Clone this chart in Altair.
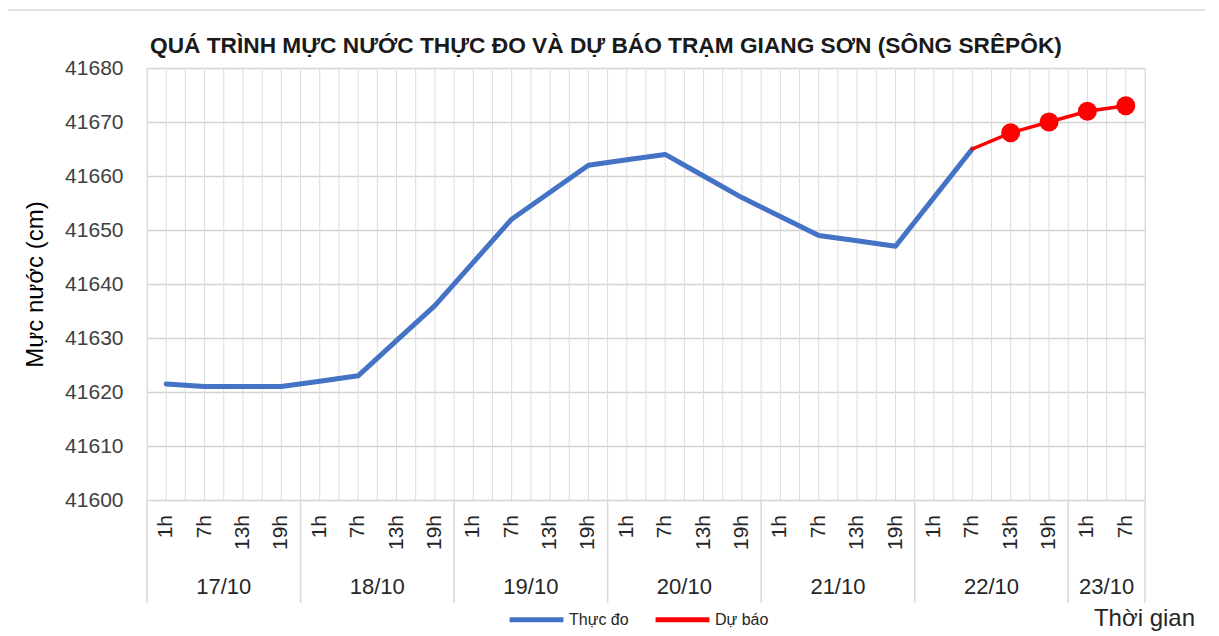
import altair as alt
import pandas as pd

# ---- data ----
dates = ["17/10", "18/10", "19/10", "20/10", "21/10", "22/10", "23/10"]
day_hours = [
    ["1h", "7h", "13h", "19h"],
    ["1h", "7h", "13h", "19h"],
    ["1h", "7h", "13h", "19h"],
    ["1h", "7h", "13h", "19h"],
    ["1h", "7h", "13h", "19h"],
    ["1h", "7h", "13h", "19h"],
    ["1h", "7h"],
]
# observed water level (cm): 17/10 1h .. 22/10 7h
observed = [41621.5, 41621, 41621, 41621,
            41622, 41623, 41629.5, 41636,
            41644, 41652, 41657, 41662,
            41663, 41664, 41660, 41656,
            41652.5, 41649, 41648, 41647,
            41656, 41665]
# forecast: 22/10 7h .. 23/10 7h
forecast = [41665, 41668, 41670, 41672, 41673]
forecast_start = 21  # category index where forecast line starts
series_names = ["Thực đo", "Dự báo"]
series_colors = ["#4472C4", "#FF0000"]
title_text = "QUÁ TRÌNH MỰC NƯỚC THỰC ĐO VÀ DỰ BÁO TRẠM GIANG SƠN (SÔNG SRÊPÔK)"

y_ticks = [41600, 41610, 41620, 41630, 41640, 41650, 41660, 41670, 41680]

# ---- tables ----
rows = []
for d, hrs in zip(dates, day_hours):
    for h in hrs:
        rows.append({"date": d, "hour": h})
cat_df = pd.DataFrame(rows)
cat_df["pos"] = cat_df.index + 0.5
n = len(cat_df)

obs_df = pd.DataFrame({"pos": cat_df["pos"][: len(observed)].values, "value": observed,
                       "series": series_names[0]})
fc_df = pd.DataFrame({"pos": cat_df["pos"][forecast_start: forecast_start + len(forecast)].values,
                      "value": forecast, "series": series_names[1]})
mk_df = fc_df.iloc[1:]

grid_df = pd.DataFrame({"pos": [i * 0.5 for i in range(2 * n + 1)]})
bounds = [0]
for hrs in day_hours:
    bounds.append(bounds[-1] + len(hrs))
sep_df = pd.DataFrame({"pos": bounds})
date_df = pd.DataFrame({"date": dates,
                        "pos": [(bounds[i] + bounds[i + 1]) / 2 for i in range(len(dates))]})

W, H = 998, 432
FONT = "Liberation Sans"
xs = alt.Scale(domain=[0, n], nice=False, zero=False)
ys = alt.Scale(domain=[y_ticks[0], y_ticks[-1]], nice=False, zero=False)
color_scale = alt.Scale(domain=series_names, range=series_colors)

X_AXIS = alt.Axis(
    title="Thời gian", labels=False, ticks=False, domain=False, grid=False,
    titleX=997, titleY=118, titleAlign="center", titleBaseline="middle",
    titleFontSize=24, titleFontWeight="normal", titleFont=FONT, titleColor="#262626")
Y_AXIS = alt.Axis(
    values=y_ticks, format="d", grid=True, gridColor="#d4d4d4", gridWidth=1.3,
    domain=False, ticks=False,
    labelFontSize=21, labelFont=FONT, labelColor="#404040", labelPadding=24,
    title="Mực nước (cm)", titleX=-112, titleY=216, titleAngle=270,
    titleAlign="center", titleBaseline="middle", titleFontSize=24,
    titleFontWeight="normal", titleFont=FONT, titleColor="#000000")


def X(field):
    return alt.X(field, scale=xs, axis=X_AXIS)


def Y(field):
    return alt.Y(field, scale=ys, axis=Y_AXIS)


legend = alt.Legend(
    orient="none", legendX=360, legendY=522, direction="horizontal", title=None,
    symbolType="stroke", symbolSize=2900, symbolStrokeWidth=5, labelFontSize=16,
    labelFont=FONT, labelColor="#262626", labelOffset=3, columnPadding=16, padding=0,
)
COLOR = alt.Color("series:N", scale=color_scale, legend=legend)

base1 = pd.DataFrame({"t": [title_text]})
frame = alt.Chart(base1).mark_rect(
    fillOpacity=0, stroke="#d9d9d9", strokeWidth=1.5
).encode(x=alt.value(-142), x2=alt.value(1067), y=alt.value(-58), y2=alt.value(620))

title = alt.Chart(base1).mark_text(
    align="left", baseline="middle", fontSize=22.7, fontWeight="bold", font=FONT, color="#1a1a1a"
).encode(x=alt.value(3), y=alt.value(-22), text="t:N")

vgrid = alt.Chart(grid_df).mark_rule(color="#dcdcdc", strokeWidth=1).encode(x=X("pos:Q"))

seps = alt.Chart(sep_df).mark_rule(color="#d9d9d9", strokeWidth=1.5).encode(
    x=X("pos:Q"), y=alt.value(H), y2=alt.value(535)
)

hour_text = alt.Chart(cat_df).mark_text(
    angle=270, align="right", baseline="middle", fontSize=21, font=FONT, color="#262626"
).encode(x=X("pos:Q"), y=alt.value(447), text="hour:N")

date_text = alt.Chart(date_df).mark_text(
    align="center", baseline="middle", fontSize=22, font=FONT, color="#262626"
).encode(x=X("pos:Q"), y=alt.value(519), text="date:N")

obs_line = alt.Chart(obs_df).mark_line(strokeWidth=5, strokeCap="round", strokeJoin="round").encode(
    x=X("pos:Q"), y=Y("value:Q"), color=COLOR,
)

fc_line = alt.Chart(fc_df).mark_line(strokeWidth=3.5, strokeCap="round", strokeJoin="round").encode(
    x=X("pos:Q"), y=Y("value:Q"), color=COLOR,
)

fc_pts = alt.Chart(mk_df).mark_circle(size=360, opacity=1).encode(
    x=X("pos:Q"), y=Y("value:Q"), color=COLOR,
)

chart = alt.layer(frame, title, vgrid, seps, hour_text, date_text, obs_line, fc_line, fc_pts).properties(
    width=W, height=H,
    padding={"left": 139, "top": 60, "right": 60, "bottom": 136},
    autosize=alt.AutoSizeParams(type="none"),
).configure_view(stroke=None).configure(font=FONT)

chart.save("out.html", embed_options={"renderer": "svg", "actions": False})
